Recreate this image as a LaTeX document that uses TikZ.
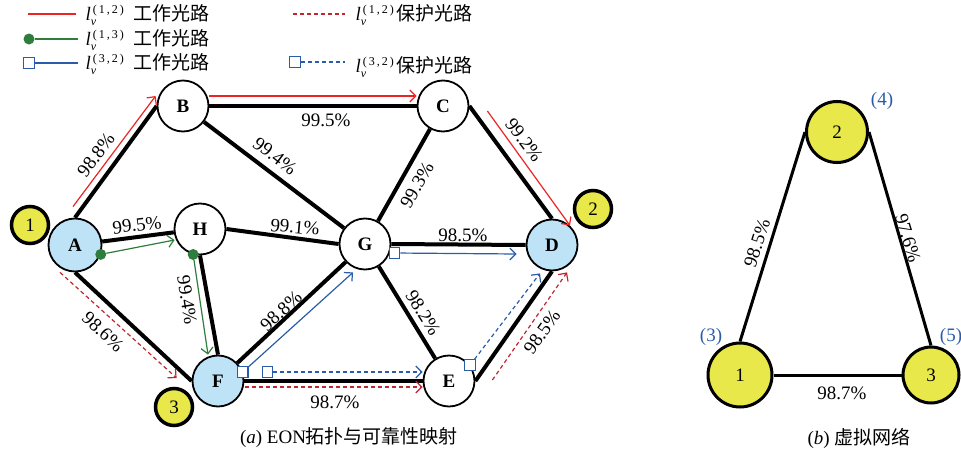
\documentclass[tikz,border=0pt]{standalone}
\usepackage{fontspec}
\setmainfont{Liberation Serif}
\newfontfamily\cjk{Noto Sans CJK SC}
\usetikzlibrary{arrows.meta,calc}
\definecolor{nblue}{HTML}{BEE3F7}
\definecolor{nyellow}{HTML}{E8E84A}
\definecolor{cred}{HTML}{EE2424}
\definecolor{cdred}{HTML}{C0262D}
\definecolor{cgreen}{HTML}{2E7D3C}
\definecolor{cblue}{HTML}{2A5CAA}
\newcommand\lvlab[2]{\textit{l}\rlap{\raisebox{-4.5pt}{\fontsize{12}{12}\selectfont\textit{v}}}\raisebox{7.5pt}{\fontsize{12}{12}\selectfont\,(\,#1\,,\,#2\,)}}
\begin{document}
\begin{tikzpicture}[x=1pt,y=-1pt,
  every node/.style={font=\fontsize{19}{21}\selectfont},
  enode/.style={circle,draw,line width=1.8pt,minimum size=51pt,inner sep=0pt,fill=white,font=\fontsize{19}{21}\selectfont\bfseries},
  bnode/.style={enode,fill=nblue},
  ynode/.style={circle,draw,line width=3.5pt,fill=nyellow,minimum size=37pt,inner sep=0pt},
  vnode/.style={circle,draw,line width=3pt,fill=nyellow,inner sep=0pt},
  link/.style={line width=4pt},
  vlink/.style={line width=3pt},
  lab/.style={inner sep=0pt},
  tip/.style={-{Straight Barb[length=6pt,width=12pt]}},
  redw/.style={draw=cred,line width=1.2pt,tip},
  redp/.style={draw=cdred,line width=1.2pt,dash pattern=on 4pt off 3pt,tip},
  grnw/.style={draw=cgreen,line width=1.2pt,tip},
  bluw/.style={draw=cblue,line width=1.2pt,tip},
  blup/.style={draw=cblue,line width=1.2pt,dash pattern=on 4pt off 3pt,tip},
  dotm/.style={circle,fill=cgreen,minimum size=11pt,inner sep=0pt},
  sqm/.style={rectangle,draw=cblue,line width=1.2pt,fill=white,minimum size=10.5pt,inner sep=0pt},
  vl/.style={text=cblue}
]
\useasboundingbox (0,0) rectangle (961,455);
% ---------- legend ----------
\coordinate (g1a) at (28,14); \coordinate (g1b) at (76,14);
\draw[draw=cred,line width=1.2pt] (g1a) -- (g1b);
\node[anchor=west] (t1) at (82,15) {\lvlab{1}{2}\ \ {\cjk 工作光路}};
\node[dotm] (g2a) at (29,39) {}; \coordinate (g2b) at (78,39);
\draw[draw=cgreen,line width=1.2pt] (g2a) -- (g2b);
\node[anchor=west] (t2) at (82,40) {\lvlab{1}{3}\ \ {\cjk 工作光路}};
\node[sqm] (g3a) at (29,63) {}; \coordinate (g3b) at (78,63);
\draw[draw=cblue,line width=1.2pt] (g3a) -- (g3b);
\node[anchor=west] (t3) at (82,64) {\lvlab{3}{2}\ \ {\cjk 工作光路}};
\coordinate (g4a) at (293,14); \coordinate (g4b) at (345,14);
\draw[draw=cdred,line width=1.2pt,dash pattern=on 4pt off 3pt] (g4a) -- (g4b);
\node[anchor=west] (t4) at (352,15) {\lvlab{1}{2}\,{\cjk 保护光路}};
\node[sqm] (g5a) at (295,62) {}; \coordinate (g5b) at (345,62);
\draw[draw=cblue,line width=1.2pt,dash pattern=on 4pt off 3pt] (g5a) -- (g5b);
\node[anchor=west] (t5) at (352,67) {\lvlab{3}{2}\,{\cjk 保护光路}};
% ---------- EON nodes ----------
\node[enode] (B) at (183,106) {B};
\node[enode] (C) at (443,106) {C};
\node[bnode,minimum size=53pt] (A) at (75,245) {A};
\node[enode] (H) at (200,229) {H};
\node[enode] (G) at (365,244) {G};
\node[bnode] (D) at (552,245) {D};
\node[bnode] (F) at (218,381) {F};
\node[enode] (E) at (449,381) {E};
\node[ynode] (Y1) at (30,225) {1};
\node[ynode] (Y2) at (593,209) {2};
\node[ynode] (Y3) at (174,407) {3};
% ---------- EON links ----------
\draw[link] (A.north) -- (B.west);
\draw[link] (B.east) -- (C.west);
\draw[link] (B) -- (G);
\draw[link] (A) -- (H);
\draw[link] (H.east) -- (G.west);
\draw[link] (C) -- (G);
\draw[link] (C.east) -- (D.north);
\draw[link] (G.east) -- (D.west);
\draw[link] (H.south) -- (F.north);
\draw[link] (A.south) -- (F.west);
\draw[link] (F) -- (G);
\draw[link] (F.east) -- (E.west);
\draw[link] (G) -- (E);
\draw[link] (E.east) -- (D.south);
% ---------- link labels ----------
\node[lab,rotate=53] (l1) at (96,155) {98.8\%};
\node[lab] (l2) at (326,120) {99.5\%};
\node[lab,rotate=-37] (l3) at (275,156) {99.4\%};
\node[lab,rotate=7] (l4) at (137,225) {99.5\%};
\node[lab,rotate=-5] (l5) at (295,227) {99.1\%};
\node[lab,rotate=60] (l6) at (417,185) {99.3\%};
\node[lab,rotate=-53] (l7) at (524,140) {99.2\%};
\node[lab] (l8) at (463,235) {98.5\%};
\node[lab,rotate=-81] (l9) at (187,300) {99.4\%};
\node[lab,rotate=-43] (l10) at (103,332) {98.6\%};
\node[lab,rotate=43] (l11) at (281,311) {98.8\%};
\node[lab,rotate=-58] (l12) at (423,313) {98.2\%};
\node[lab] (l13) at (335,402) {98.7\%};
\node[lab,rotate=55] (l14) at (542,332) {98.5\%};
% ---------- lightpaths ----------
\draw[redw] ($(A.north)+(-2,-11)$) -- ($(B.west)+(-1,-10)$);
\draw[redw] ($(B.east)+(0,-10)$) -- ($(C.west)+(0,-10)$);
\draw[redw] ($(C.east)+(18,5)$) -- ($(D.north)+(18,7)$);
\draw[redp] ($(A.south)+(-15,0)$) -- ($(F.west)+(-15,-3)$);
\draw[redp] ($(F.east)+(1,6)$) -- ($(E.west)+(0,6)$);
\draw[redp] ($(E.east)+(17,-1)$) -- ($(D.south)+(15,1)$);
\node[dotm] (d1) at (A.-20) {};
\draw[grnw] (d1) -- ($(H.west)+(1,11)$);
\node[dotm] (d2) at (H.-105) {};
\draw[grnw] (d2) -- ($(F.north)+(-10,0)$);
\node[sqm] (s1) at (F.20) {};
\draw[bluw] (s1) -- ($(G.south)+(-12,2)$);
\node[sqm] (s2) at ($(G.east)+(3,9)$) {};
\draw[bluw] (s2) -- ($(D.west)+(-9,9)$);
\node[sqm] (s3) at ($(F.east)+(23,-9)$) {};
\draw[blup] (s3) -- ($(E.west)+(0,-9)$);
\node[sqm] (s4) at (E.37) {};
\draw[blup] (s4) -- ($(D.south)+(-12,2)$);
% ---------- virtual network ----------
\node[vnode,minimum size=61pt] (V2) at (837,132) {2};
\node[vnode,minimum size=64pt] (V1) at (740,375) {1};
\node[vnode,minimum size=56pt] (V3) at (931,375) {3};
\draw[vlink] (V1.north) -- (V2.west);
\draw[vlink] (V2.east) -- (V3.north);
\draw[vlink] (V1.east) -- (V3.west);
\node[lab,rotate=72] (m1) at (757,243) {98.5\%};
\node[lab,rotate=-73] (m2) at (908,238) {97.6\%};
\node[lab] (m3) at (842,393) {98.7\%};
\node[vl] (p4) at (882,101) {(4)};
\node[vl] (p3) at (711,337) {(3)};
\node[vl] (p5) at (951,337) {(5)};
% ---------- captions ----------
\node (capa) at (349,438) {(\textit{a}) EON{\cjk 拓扑与可靠性映射}};
\node (capb) at (859,438) {(\textit{b}) {\cjk 虚拟网络}};
\end{tikzpicture}
\end{document}
